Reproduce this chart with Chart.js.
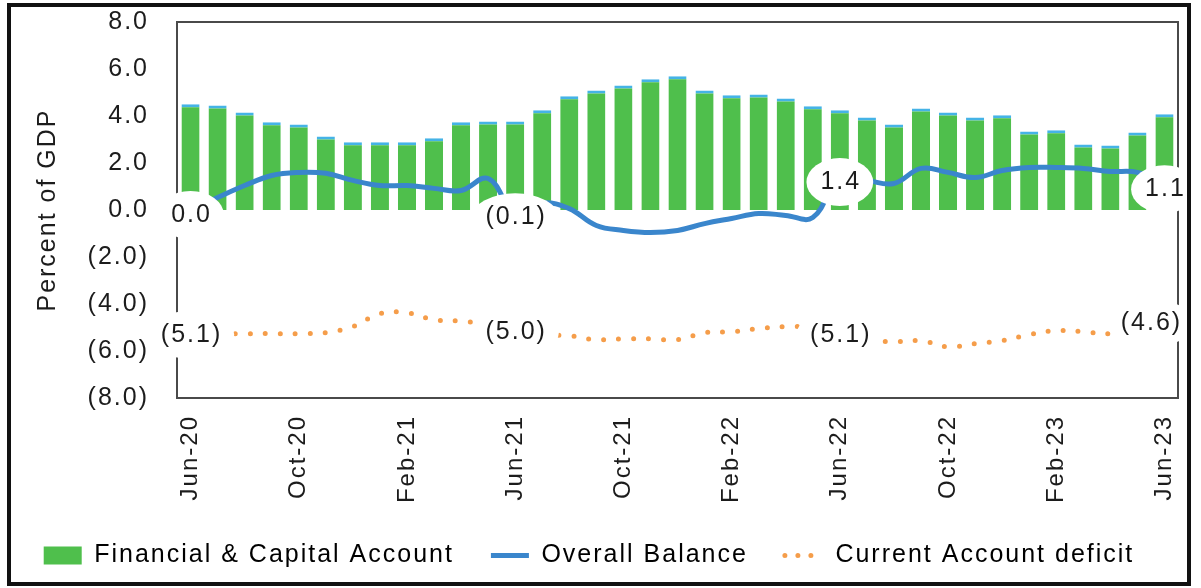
<!DOCTYPE html>
<html>
<head>
<meta charset="utf-8">
<script src="https://cdn.jsdelivr.net/npm/chart.js@4.4.1/dist/chart.umd.min.js"></script>
<style>
html,body{margin:0;padding:0;background:#fff;overflow:hidden}
canvas{display:block}
</style>
</head>
<body>
<canvas id="c" width="1201" height="588" style="width:1201px;height:588px"></canvas>
<script>
const months = ['Jun-20','Jul-20','Aug-20','Sep-20','Oct-20','Nov-20','Dec-20',
  'Jan-21','Feb-21','Mar-21','Apr-21','May-21','Jun-21','Jul-21','Aug-21','Sep-21','Oct-21','Nov-21','Dec-21',
  'Jan-22','Feb-22','Mar-22','Apr-22','May-22','Jun-22','Jul-22','Aug-22','Sep-22','Oct-22','Nov-22','Dec-22',
  'Jan-23','Feb-23','Mar-23','Apr-23','May-23','Jun-23'];

const financialCapital = [4.50,4.45,4.15,3.73,3.64,3.13,2.88,2.88,2.88,3.05,3.73,3.77,3.77,4.24,4.84,5.09,5.30,5.56,5.69,
  5.09,4.88,4.92,4.75,4.41,4.24,3.94,3.64,4.32,4.15,3.94,4.03,3.34,3.39,2.79,2.75,3.30,4.07];

const overallBalance = [0.0,0.53,1.04,1.47,1.60,1.56,1.26,1.04,1.04,0.92,0.83,1.34,-0.1,0.3,0.06,-0.66,-0.87,-0.96,-0.87,
  -0.58,-0.36,-0.15,-0.23,-0.32,1.4,1.26,1.13,1.77,1.60,1.38,1.68,1.81,1.81,1.77,1.64,1.60,1.1];

const currentAccount = [-5.1,-5.25,-5.26,-5.26,-5.26,-5.22,-4.96,-4.41,-4.37,-4.67,-4.73,-4.85,-5.0,-5.3,-5.35,-5.52,-5.48,-5.48,-5.52,
  -5.22,-5.18,-5.05,-4.96,-5.0,-5.1,-5.5,-5.6,-5.56,-5.82,-5.69,-5.56,-5.3,-5.13,-5.18,-5.26,-4.9,-4.6];

const labelledIndices = [0, 12, 24, 36];
const yTickValues = [8, 6, 4, 2, 0, -2, -4, -6, -8];

const FONT = '"Liberation Sans", Arial, Helvetica, sans-serif';
const TXT = '#1c1c1c';
Chart.defaults.font.family = FONT;

function fmt(v) {
  const a = Math.abs(v).toFixed(1);
  return v < -0.0001 ? '(' + a + ')' : a;
}

const spacingPlugin = {
  id: 'spacing',
  afterInit(c) { c.ctx.letterSpacing = '2px'; },
  beforeUpdate(c) { c.ctx.letterSpacing = '2px'; },
  beforeDraw(c) { c.ctx.letterSpacing = '2px'; }
};

const framePlugin = {
  id: 'frame',
  beforeDatasetsDraw(c) {
    const {ctx, chartArea: a} = c;
    ctx.save();
    ctx.strokeStyle = '#4a4a4a';
    ctx.lineWidth = 2;
    ctx.strokeRect(a.left, a.top, a.right - a.left, a.bottom - a.top);
    ctx.restore();
  },
  afterDraw(c) {
    const ctx = c.ctx;
    ctx.save();
    ctx.strokeStyle = '#111';
    ctx.lineWidth = 4;
    ctx.strokeRect(9, 5, 1180, 579);
    ctx.restore();
  }
};

const labelNudge = { '2-36': [-14, 0] };

const dataLabelPlugin = {
  id: 'dataLabels',
  afterDatasetsDraw(c) {
    const ctx = c.ctx;
    ctx.save();
    ctx.font = '25px ' + FONT;
    ctx.textAlign = 'center';
    ctx.textBaseline = 'middle';
    [1, 2].forEach(di => {
      const meta = c.getDatasetMeta(di);
      const ds = c.data.datasets[di];
      labelledIndices.forEach(i => {
        const pt = meta.data[i];
        const txt = fmt(ds.data[i]);
        const w = ctx.measureText(txt).width;
        const n = labelNudge[di + '-' + i] || [0, 0];
        const cx = pt.x + n[0];
        const cy = pt.y + 5 + n[1];
        ctx.fillStyle = '#ffffff';
        ctx.beginPath();
        ctx.ellipse(cx, cy, w / 2 + 13, 24, 0, 0, Math.PI * 2);
        ctx.fill();
        ctx.fillStyle = TXT;
        ctx.fillText(txt, cx + 1, cy);
      });
    });
    ctx.restore();
  }
};

const GREEN = '#4fbf4c';
const CYAN = '#45b3e6';
const BLUE = '#3a86cc';
const ORANGE = '#f59d4a';

new Chart(document.getElementById('c'), {
  type: 'bar',
  data: {
    labels: months,
    datasets: [
      {
        type: 'bar',
        label: 'Financial & Capital Account',
        data: financialCapital,
        backgroundColor: GREEN,
        borderColor: CYAN,
        borderWidth: {top: 3, right: 0, bottom: 0, left: 0},
        borderSkipped: 'start',
        categoryPercentage: 1,
        barPercentage: 0.67,
        order: 2
      },
      {
        type: 'line',
        label: 'Overall Balance',
        data: overallBalance,
        borderColor: BLUE,
        backgroundColor: BLUE,
        borderWidth: 5,
        pointRadius: 0,
        tension: 0.4,
        fill: false,
        order: 0
      },
      {
        type: 'line',
        label: 'Current Account deficit',
        data: currentAccount,
        borderColor: ORANGE,
        backgroundColor: ORANGE,
        borderWidth: 5,
        borderDash: [0, 15],
        borderCapStyle: 'round',
        pointRadius: 0,
        tension: 0.4,
        fill: false,
        order: 1
      }
    ]
  },
  options: {
    responsive: false,
    animation: false,
    devicePixelRatio: 1,
    layout: { padding: { top: 22, right: 23, bottom: 10, left: 0 } },
    scales: {
      x: {
        offset: true,
        grid: { display: false, drawTicks: false },
        border: { display: false },
        ticks: {
          autoSkip: false,
          maxRotation: 90,
          minRotation: 90,
          padding: 17,
          color: TXT,
          font: { size: 24 },
          callback: (v, i) => (i % 4 === 0 ? months[i] : '')
        },
        afterFit: s => { s.height = 108; s.paddingLeft = 0; s.paddingRight = 0; }
      },
      y: {
        min: -8,
        max: 8,
        grid: { display: false, drawTicks: false },
        border: { display: false },
        afterBuildTicks: s => { s.ticks = yTickValues.map(v => ({ value: v })); },
        ticks: {
          padding: 28,
          color: TXT,
          font: { size: 25 },
          callback: v => fmt(v)
        },
        title: {
          display: true,
          text: 'Percent of GDP',
          color: TXT,
          font: { size: 25 },
          padding: { top: 33, bottom: 0 }
        },
        afterFit: s => { s.width = 177; s.paddingTop = 0; s.paddingBottom = 0; }
      }
    },
    plugins: {
      tooltip: { enabled: false },
      legend: {
        position: 'bottom',
        labels: {
          usePointStyle: true,
          pointStyleWidth: 38,
          boxHeight: 18,
          padding: 37,
          color: TXT,
          font: { size: 25 },
          sort: (a, b) => a.datasetIndex - b.datasetIndex,
          generateLabels: chart => chart.data.datasets.map((ds, i) => {
            if (i === 0) {
              return { text: ds.label, datasetIndex: i, pointStyle: 'rect', fillStyle: GREEN, strokeStyle: GREEN, lineWidth: 0, hidden: false };
            }
            if (i === 1) {
              return { text: ds.label, datasetIndex: i, pointStyle: 'line', fillStyle: BLUE, strokeStyle: BLUE, lineWidth: 5, hidden: false };
            }
            return { text: ds.label, datasetIndex: i, pointStyle: 'line', fillStyle: ORANGE, strokeStyle: ORANGE, lineWidth: 5,
                     lineDash: [0, 13], lineCap: 'round', hidden: false };
          })
        }
      }
    }
  },
  plugins: [spacingPlugin, framePlugin, dataLabelPlugin]
});
</script>
</body>
</html>
